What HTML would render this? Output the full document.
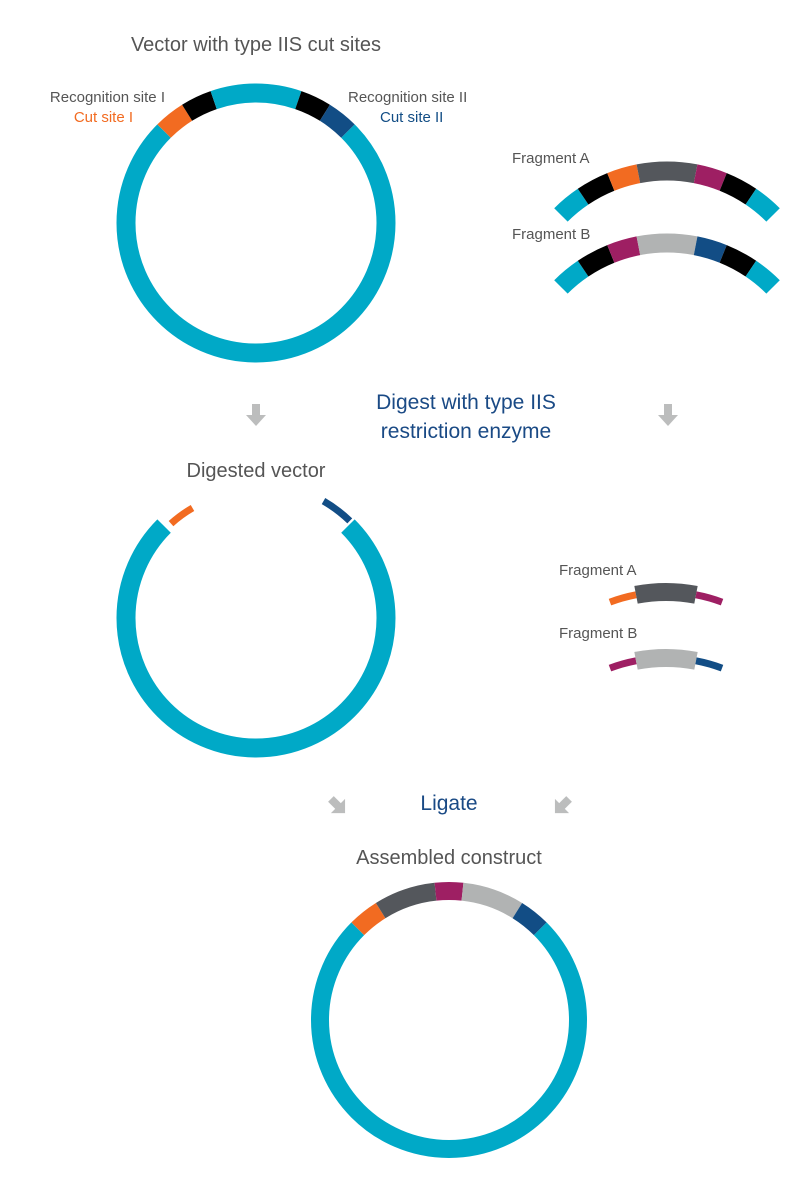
<!DOCTYPE html>
<html><head><meta charset="utf-8">
<style>
html,body{margin:0;padding:0;background:#fff;}
svg{display:block;}
text{font-family:"Liberation Sans",sans-serif;}
.lbl{fill:#555;font-size:15px;}
.ttl{fill:#555;font-size:20px;}
.step{fill:#1a4a85;font-size:21px;}
</style></head>
<body>
<svg id="fig" width="800" height="1192" viewBox="0 0 800 1192">
<text class="ttl" x="256" y="51" text-anchor="middle">Vector with type IIS cut sites</text>
<text class="lbl" x="165" y="102" text-anchor="end">Recognition site I</text>
<text class="lbl" x="133" y="122" text-anchor="end" style="fill:#f26b21">Cut site I</text>
<text class="lbl" x="348" y="102">Recognition site II</text>
<text class="lbl" x="380" y="122" style="fill:#124d85">Cut site II</text>
<text class="lbl" x="512" y="163">Fragment A</text>
<text class="lbl" x="512" y="239">Fragment B</text>
<text class="step" x="466" y="409" text-anchor="middle">Digest with type IIS</text>
<text class="step" x="466" y="438" text-anchor="middle">restriction enzyme</text>
<text class="ttl" x="256" y="477" text-anchor="middle">Digested vector</text>
<text class="lbl" x="559" y="575">Fragment A</text>
<text class="lbl" x="559" y="638">Fragment B</text>
<text class="step" x="449" y="810" text-anchor="middle">Ligate</text>
<text class="ttl" x="449" y="864" text-anchor="middle">Assembled construct</text>
<g><rect x="252" y="404" width="8" height="12" fill="#bcbdbd"/><polygon points="246,415 266,415 256,426" fill="#bcbdbd"/></g>
<g><rect x="664" y="404" width="8" height="12" fill="#bcbdbd"/><polygon points="658,415 678,415 668,426" fill="#bcbdbd"/></g>
<g transform="translate(338,806) rotate(-45)"><rect x="-4" y="-10" width="8" height="11" fill="#bcbdbd"/><polygon points="-10,0 10,0 0,10" fill="#bcbdbd"/></g>
<g transform="translate(562,806) rotate(45)"><rect x="-4" y="-10" width="8" height="11" fill="#bcbdbd"/><polygon points="-10,0 10,0 0,10" fill="#bcbdbd"/></g>
<g id="marks"></g>
</svg>
<script>
const C={cy:"#00a9c7",or:"#f26b21",bk:"#000000",bl:"#124d85",dg:"#54575c",mg:"#9e1f63",lg:"#b1b3b3"};
const vectorSegs=[[45,315,"cy"],[-45,-32,"or"],[-32,-19,"bk"],[-19,19,"cy"],[19,32,"bk"],[32,45,"bl"]];
const fragASegs=[[-45,-34,"cy"],[-34,-22,"bk"],[-22,-11,"or"],[-11,11,"dg"],[11,22,"mg"],[22,34,"bk"],[34,45,"cy"]];
const fragBSegs=[[-45,-34,"cy"],[-34,-22,"bk"],[-22,-11,"mg"],[-11,11,"lg"],[11,22,"bl"],[22,34,"bk"],[34,45,"cy"]];
const digestedSegs=[[45,315,"cy"]];
const digestedEnds=[[-42,-30,"or",127],[30,44,"bl",135]];
const dFragASegs=[[-20.5,-10.8,"or",7],[-10.8,10.8,"dg",18],[10.8,20.5,"mg",7]];
const dFragBSegs=[[-20.5,-10.8,"mg",7],[-10.8,10.8,"lg",18],[10.8,20.5,"bl",7]];
const assembledSegs=[[45,315,"cy"],[-45,-32,"or"],[-32,-6,"dg"],[-6,6,"mg"],[6,32,"lg"],[32,45,"bl"]];
const g=document.getElementById('marks');
function pt(cx,cy,r,a){const t=a*Math.PI/180;return [cx+r*Math.sin(t),cy-r*Math.cos(t)];}
function arc(cx,cy,r,a0,a1,col,w,name){
  const p0=pt(cx,cy,r,a0),p1=pt(cx,cy,r,a1);
  const large=(a1-a0)>180?1:0;
  const el=document.createElementNS("http://www.w3.org/2000/svg","path");
  el.setAttribute("d",`M${p0[0]},${p0[1]} A${r},${r} 0 ${large} 1 ${p1[0]},${p1[1]}`);
  el.setAttribute("fill","none");el.setAttribute("stroke",C[col]);el.setAttribute("stroke-width",w);
  
  
  g.appendChild(el);
}
vectorSegs.forEach(s=>arc(256,223,130,s[0],s[1],s[2],19,'vector-segment'));
fragASegs.forEach(s=>arc(667,321,150,s[0],s[1],s[2],19,'fragment-a-segment'));
fragBSegs.forEach(s=>arc(667,393,150,s[0],s[1],s[2],19,'fragment-b-segment'));
digestedSegs.forEach(s=>arc(256,618,130,s[0],s[1],s[2],19,'digested-vector-segment'));
digestedEnds.forEach(s=>arc(256,618,s[3],s[0],s[1],s[2],7,'digested-overhang'));
dFragASegs.forEach(s=>arc(666,752,160,s[0],s[1],s[2],s[3],'digested-fragment-a-segment'));
dFragBSegs.forEach(s=>arc(666,818,160,s[0],s[1],s[2],s[3],'digested-fragment-b-segment'));
assembledSegs.forEach(s=>arc(449,1020,129,s[0],s[1],s[2],18,'assembled-segment'));
</script>
</body></html>
